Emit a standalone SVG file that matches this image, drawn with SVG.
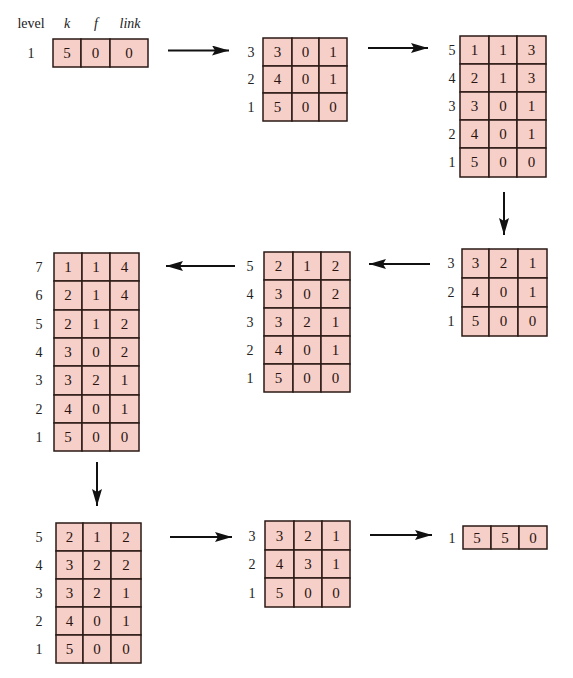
<svg xmlns="http://www.w3.org/2000/svg" width="573" height="678" viewBox="0 0 573 678">
<style>
.c{fill:#f6cfc8;stroke:#2b1a14;stroke-width:1.5}
.v{font-family:"Liberation Serif","Times New Roman",serif;font-size:15px;fill:#2a1410;text-anchor:middle}
.l{font-family:"Liberation Serif","Times New Roman",serif;font-size:14px;fill:#222;text-anchor:middle}
.h{font-family:"Liberation Serif","Times New Roman",serif;font-size:14px;fill:#222;text-anchor:middle;font-style:italic}
.a{stroke:#111;stroke-width:2;fill:none;marker-end:url(#ah)}
</style>
<defs>
<marker id="ah" markerUnits="userSpaceOnUse" markerWidth="18" markerHeight="10" refX="17" refY="5" orient="auto">
<path d="M0,0 L17,5 L0,10 L3,5 Z" fill="#111"/>
</marker>
</defs>
<rect width="573" height="678" fill="#fff"/>
<g id="header">
<text class="l" x="31" y="28">level</text>
<text class="h" x="67" y="28">k</text>
<text class="h" x="96" y="28">f</text>
<text class="h" x="130" y="28">link</text>
</g>
<g id="t1">
<rect class="c" x="53" y="39" width="28" height="28"/><rect class="c" x="81" y="39" width="29" height="28"/><rect class="c" x="110" y="39" width="38" height="28"/>
<text class="v" x="67" y="58">5</text><text class="v" x="95.5" y="58">0</text><text class="v" x="129" y="58">0</text>
<text class="l" x="31" y="58">1</text>
</g>
<g id="t2">
<rect class="c" x="263" y="38" width="29" height="28"/><rect class="c" x="292" y="38" width="27" height="28"/><rect class="c" x="319" y="38" width="28" height="28"/>
<rect class="c" x="263" y="66" width="29" height="27"/><rect class="c" x="292" y="66" width="27" height="27"/><rect class="c" x="319" y="66" width="28" height="27"/>
<rect class="c" x="263" y="93" width="29" height="28"/><rect class="c" x="292" y="93" width="27" height="28"/><rect class="c" x="319" y="93" width="28" height="28"/>
<text class="v" x="277.5" y="57">3</text><text class="v" x="305.5" y="57">0</text><text class="v" x="333" y="57">1</text>
<text class="v" x="277.5" y="84">4</text><text class="v" x="305.5" y="84">0</text><text class="v" x="333" y="84">1</text>
<text class="v" x="277.5" y="112">5</text><text class="v" x="305.5" y="112">0</text><text class="v" x="333" y="112">0</text>
<text class="l" x="251" y="57">3</text><text class="l" x="251" y="84">2</text><text class="l" x="251" y="112">1</text>
</g>
<g id="t3">
<rect class="c" x="460" y="36" width="29" height="28"/><rect class="c" x="489" y="36" width="28" height="28"/><rect class="c" x="517" y="36" width="29" height="28"/>
<rect class="c" x="460" y="64" width="29" height="28"/><rect class="c" x="489" y="64" width="28" height="28"/><rect class="c" x="517" y="64" width="29" height="28"/>
<rect class="c" x="460" y="92" width="29" height="28"/><rect class="c" x="489" y="92" width="28" height="28"/><rect class="c" x="517" y="92" width="29" height="28"/>
<rect class="c" x="460" y="120" width="29" height="28"/><rect class="c" x="489" y="120" width="28" height="28"/><rect class="c" x="517" y="120" width="29" height="28"/>
<rect class="c" x="460" y="148" width="29" height="29"/><rect class="c" x="489" y="148" width="28" height="29"/><rect class="c" x="517" y="148" width="29" height="29"/>
<text class="v" x="474.5" y="55">1</text><text class="v" x="503" y="55">1</text><text class="v" x="531.5" y="55">3</text>
<text class="v" x="474.5" y="83">2</text><text class="v" x="503" y="83">1</text><text class="v" x="531.5" y="83">3</text>
<text class="v" x="474.5" y="111">3</text><text class="v" x="503" y="111">0</text><text class="v" x="531.5" y="111">1</text>
<text class="v" x="474.5" y="139">4</text><text class="v" x="503" y="139">0</text><text class="v" x="531.5" y="139">1</text>
<text class="v" x="474.5" y="167">5</text><text class="v" x="503" y="167">0</text><text class="v" x="531.5" y="167">0</text>
<text class="l" x="452" y="55">5</text><text class="l" x="452" y="83">4</text><text class="l" x="452" y="111">3</text><text class="l" x="452" y="139">2</text><text class="l" x="452" y="167">1</text>
</g>
<g id="t4">
<rect class="c" x="462" y="249" width="27" height="29"/><rect class="c" x="489" y="249" width="29" height="29"/><rect class="c" x="518" y="249" width="29" height="29"/>
<rect class="c" x="462" y="278" width="27" height="29"/><rect class="c" x="489" y="278" width="29" height="29"/><rect class="c" x="518" y="278" width="29" height="29"/>
<rect class="c" x="462" y="307" width="27" height="29"/><rect class="c" x="489" y="307" width="29" height="29"/><rect class="c" x="518" y="307" width="29" height="29"/>
<text class="v" x="475.5" y="268">3</text><text class="v" x="503.5" y="268">2</text><text class="v" x="532.5" y="268">1</text>
<text class="v" x="475.5" y="297">4</text><text class="v" x="503.5" y="297">0</text><text class="v" x="532.5" y="297">1</text>
<text class="v" x="475.5" y="326">5</text><text class="v" x="503.5" y="326">0</text><text class="v" x="532.5" y="326">0</text>
<text class="l" x="451" y="268">3</text><text class="l" x="451" y="297">2</text><text class="l" x="451" y="326">1</text>
</g>
<g id="t5">
<rect class="c" x="264" y="252" width="29" height="28"/><rect class="c" x="293" y="252" width="28" height="28"/><rect class="c" x="321" y="252" width="29" height="28"/>
<rect class="c" x="264" y="280" width="29" height="28"/><rect class="c" x="293" y="280" width="28" height="28"/><rect class="c" x="321" y="280" width="29" height="28"/>
<rect class="c" x="264" y="308" width="29" height="28"/><rect class="c" x="293" y="308" width="28" height="28"/><rect class="c" x="321" y="308" width="29" height="28"/>
<rect class="c" x="264" y="336" width="29" height="28"/><rect class="c" x="293" y="336" width="28" height="28"/><rect class="c" x="321" y="336" width="29" height="28"/>
<rect class="c" x="264" y="364" width="29" height="28"/><rect class="c" x="293" y="364" width="28" height="28"/><rect class="c" x="321" y="364" width="29" height="28"/>
<text class="v" x="278.5" y="271">2</text><text class="v" x="307" y="271">1</text><text class="v" x="335.5" y="271">2</text>
<text class="v" x="278.5" y="299">3</text><text class="v" x="307" y="299">0</text><text class="v" x="335.5" y="299">2</text>
<text class="v" x="278.5" y="327">3</text><text class="v" x="307" y="327">2</text><text class="v" x="335.5" y="327">1</text>
<text class="v" x="278.5" y="355">4</text><text class="v" x="307" y="355">0</text><text class="v" x="335.5" y="355">1</text>
<text class="v" x="278.5" y="383">5</text><text class="v" x="307" y="383">0</text><text class="v" x="335.5" y="383">0</text>
<text class="l" x="250" y="271">5</text><text class="l" x="250" y="299">4</text><text class="l" x="250" y="327">3</text><text class="l" x="250" y="355">2</text><text class="l" x="250" y="383">1</text>
</g>
<g id="t6">
<rect class="c" x="54" y="253" width="28" height="28"/><rect class="c" x="82" y="253" width="28" height="28"/><rect class="c" x="110" y="253" width="29" height="28"/>
<rect class="c" x="54" y="281" width="28" height="29"/><rect class="c" x="82" y="281" width="28" height="29"/><rect class="c" x="110" y="281" width="29" height="29"/>
<rect class="c" x="54" y="310" width="28" height="28"/><rect class="c" x="82" y="310" width="28" height="28"/><rect class="c" x="110" y="310" width="29" height="28"/>
<rect class="c" x="54" y="338" width="28" height="28"/><rect class="c" x="82" y="338" width="28" height="28"/><rect class="c" x="110" y="338" width="29" height="28"/>
<rect class="c" x="54" y="366" width="28" height="29"/><rect class="c" x="82" y="366" width="28" height="29"/><rect class="c" x="110" y="366" width="29" height="29"/>
<rect class="c" x="54" y="395" width="28" height="28"/><rect class="c" x="82" y="395" width="28" height="28"/><rect class="c" x="110" y="395" width="29" height="28"/>
<rect class="c" x="54" y="423" width="28" height="28"/><rect class="c" x="82" y="423" width="28" height="28"/><rect class="c" x="110" y="423" width="29" height="28"/>
<text class="v" x="68" y="272">1</text><text class="v" x="96" y="272">1</text><text class="v" x="124.5" y="272">4</text>
<text class="v" x="68" y="300">2</text><text class="v" x="96" y="300">1</text><text class="v" x="124.5" y="300">4</text>
<text class="v" x="68" y="329">2</text><text class="v" x="96" y="329">1</text><text class="v" x="124.5" y="329">2</text>
<text class="v" x="68" y="357">3</text><text class="v" x="96" y="357">0</text><text class="v" x="124.5" y="357">2</text>
<text class="v" x="68" y="385">3</text><text class="v" x="96" y="385">2</text><text class="v" x="124.5" y="385">1</text>
<text class="v" x="68" y="414">4</text><text class="v" x="96" y="414">0</text><text class="v" x="124.5" y="414">1</text>
<text class="v" x="68" y="442">5</text><text class="v" x="96" y="442">0</text><text class="v" x="124.5" y="442">0</text>
<text class="l" x="39" y="272">7</text><text class="l" x="39" y="300">6</text><text class="l" x="39" y="329">5</text><text class="l" x="39" y="357">4</text><text class="l" x="39" y="385">3</text><text class="l" x="39" y="414">2</text><text class="l" x="39" y="442">1</text>
</g>
<g id="t7">
<rect class="c" x="56" y="523" width="27" height="28"/><rect class="c" x="83" y="523" width="28" height="28"/><rect class="c" x="111" y="523" width="30" height="28"/>
<rect class="c" x="56" y="551" width="27" height="28"/><rect class="c" x="83" y="551" width="28" height="28"/><rect class="c" x="111" y="551" width="30" height="28"/>
<rect class="c" x="56" y="579" width="27" height="28"/><rect class="c" x="83" y="579" width="28" height="28"/><rect class="c" x="111" y="579" width="30" height="28"/>
<rect class="c" x="56" y="607" width="27" height="28"/><rect class="c" x="83" y="607" width="28" height="28"/><rect class="c" x="111" y="607" width="30" height="28"/>
<rect class="c" x="56" y="635" width="27" height="28"/><rect class="c" x="83" y="635" width="28" height="28"/><rect class="c" x="111" y="635" width="30" height="28"/>
<text class="v" x="69.5" y="542">2</text><text class="v" x="97" y="542">1</text><text class="v" x="126" y="542">2</text>
<text class="v" x="69.5" y="570">3</text><text class="v" x="97" y="570">2</text><text class="v" x="126" y="570">2</text>
<text class="v" x="69.5" y="598">3</text><text class="v" x="97" y="598">2</text><text class="v" x="126" y="598">1</text>
<text class="v" x="69.5" y="626">4</text><text class="v" x="97" y="626">0</text><text class="v" x="126" y="626">1</text>
<text class="v" x="69.5" y="654">5</text><text class="v" x="97" y="654">0</text><text class="v" x="126" y="654">0</text>
<text class="l" x="39" y="542">5</text><text class="l" x="39" y="570">4</text><text class="l" x="39" y="598">3</text><text class="l" x="39" y="626">2</text><text class="l" x="39" y="654">1</text>
</g>
<g id="t8">
<rect class="c" x="265" y="521" width="29" height="29"/><rect class="c" x="294" y="521" width="28" height="29"/><rect class="c" x="322" y="521" width="28" height="29"/>
<rect class="c" x="265" y="550" width="29" height="28"/><rect class="c" x="294" y="550" width="28" height="28"/><rect class="c" x="322" y="550" width="28" height="28"/>
<rect class="c" x="265" y="578" width="29" height="29"/><rect class="c" x="294" y="578" width="28" height="29"/><rect class="c" x="322" y="578" width="28" height="29"/>
<text class="v" x="279.5" y="541">3</text><text class="v" x="308" y="541">2</text><text class="v" x="336" y="541">1</text>
<text class="v" x="279.5" y="569">4</text><text class="v" x="308" y="569">3</text><text class="v" x="336" y="569">1</text>
<text class="v" x="279.5" y="598">5</text><text class="v" x="308" y="598">0</text><text class="v" x="336" y="598">0</text>
<text class="l" x="252" y="541">3</text><text class="l" x="252" y="569">2</text><text class="l" x="252" y="598">1</text>
</g>
<g id="t9">
<rect class="c" x="463" y="526" width="28" height="23"/><rect class="c" x="491" y="526" width="28" height="23"/><rect class="c" x="519" y="526" width="28" height="23"/>
<text class="v" x="477" y="543">5</text><text class="v" x="505" y="543">5</text><text class="v" x="533" y="543">0</text>
<text class="l" x="452" y="543">1</text>
</g>
<g id="connectors">
<line class="a" x1="168" y1="50.5" x2="229" y2="50.5"/>
<line class="a" x1="368" y1="48" x2="428" y2="48"/>
<line class="a" x1="504" y1="192" x2="504" y2="235"/>
<line class="a" x1="430" y1="264" x2="369" y2="264"/>
<line class="a" x1="235" y1="266" x2="166" y2="266"/>
<line class="a" x1="97" y1="462" x2="97" y2="506"/>
<line class="a" x1="170" y1="537" x2="232" y2="537"/>
<line class="a" x1="370" y1="535" x2="432" y2="535"/>
</g>
</svg>
